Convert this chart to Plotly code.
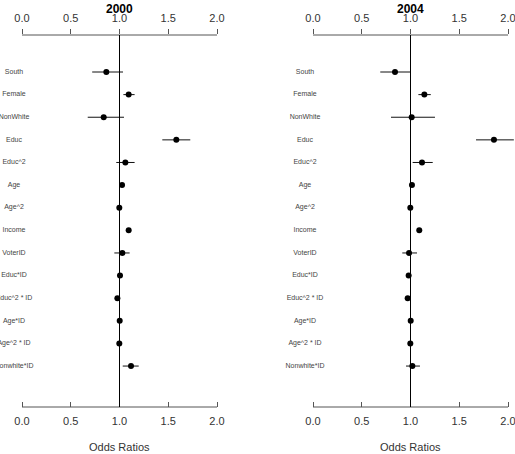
import plotly.graph_objects as go

categories = ["South", "Female", "NonWhite", "Educ", "Educ^2", "Age", "Age^2",
              "Income", "VoterID", "Educ*ID", "Educ^2 * ID", "Age*ID",
              "Age^2 * ID", "Nonwhite*ID"]

or_2000 = [0.865, 1.094, 0.838, 1.583, 1.060, 1.026, 0.998,
           1.094, 1.029, 1.005, 0.978, 1.002, 0.998, 1.118]
lo_2000 = [0.720, 1.040, 0.674, 1.439, 0.967, 1.010, 0.990,
           1.080, 0.947, 0.995, 0.968, 0.992, 0.990, 1.033]
hi_2000 = [1.036, 1.155, 1.046, 1.726, 1.155, 1.040, 1.006,
           1.108, 1.104, 1.015, 0.988, 1.012, 1.006, 1.197]

or_2004 = [0.841, 1.142, 1.012, 1.856, 1.118, 1.015, 0.998,
           1.090, 0.985, 0.981, 0.971, 1.002, 0.998, 1.019]
lo_2004 = [0.690, 1.081, 0.800, 1.672, 1.022, 1.005, 0.990,
           1.080, 0.916, 0.971, 0.961, 0.992, 0.990, 0.954]
hi_2004 = [0.998, 1.208, 1.251, 2.060, 1.228, 1.025, 1.006,
           1.100, 1.067, 0.991, 0.981, 1.012, 1.006, 1.097]

years = ["2000", "2004"]
tick_vals = [0.0, 0.5, 1.0, 1.5, 2.0]
tick_text = ["0.0", "0.5", "1.0", "1.5", "2.0"]

W, H = 515, 454
FONT = "Liberation Sans, Arial, sans-serif"
fig = go.Figure()

panels = [(or_2000, lo_2000, hi_2000), (or_2004, lo_2004, hi_2004)]
x_domains = [[0.0, 0.5], [0.5, 1.0]]
x_ranges = [[-0.22564, 2.41538], [-0.56923, 2.07179]]
y_dom = [(H - 407) / H, (H - 35) / H]
rows = list(range(len(categories)))
label_x = -0.082

xb_names = ["x", "x3"]
xt_names = ["x2", "x4"]
y_names = ["y", "y2"]

for k, (vals, lo, hi) in enumerate(panels):
    xa, ya = xb_names[k], y_names[k]
    plus = [h - v for h, v in zip(hi, vals)]
    minus = [v - l for v, l in zip(vals, lo)]
    fig.add_trace(go.Scatter(
        x=[label_x] * len(categories), y=rows, mode="text", text=categories,
        textfont=dict(family=FONT, size=7, color="#444"),
        textposition="middle center",
        xaxis=xa, yaxis=ya, showlegend=False, hoverinfo="skip"))
    fig.add_trace(go.Scatter(
        x=vals, y=rows, mode="markers",
        marker=dict(color="black", size=6),
        error_x=dict(type="data", symmetric=False, array=plus, arrayminus=minus,
                     color="#111", thickness=1, width=0),
        xaxis=xa, yaxis=ya, cliponaxis=False, showlegend=False,
        hoverinfo="skip"))
    fig.add_trace(go.Scatter(x=[None], y=[None], xaxis=xt_names[k], yaxis=ya,
                             showlegend=False, hoverinfo="skip"))

axis_common = dict(tickvals=tick_vals, ticktext=tick_text,
                   showgrid=False, zeroline=False, showline=False,
                   tickcolor="#555", ticklen=5, tickwidth=1, automargin=False,
                   ticklabeloverflow="allow",
                   tickfont=dict(family=FONT, size=11, color="#333"))

layout = dict(
    width=W, height=H, margin=dict(l=0, r=0, t=0, b=0, pad=0, autoexpand=False),
    paper_bgcolor="white", plot_bgcolor="white",
    showlegend=False,
)

annotations = []
shapes = []
for k in range(2):
    xb = "xaxis" if k == 0 else "xaxis3"
    xt = "xaxis2" if k == 0 else "xaxis4"
    yn = "yaxis" if k == 0 else "yaxis2"
    xref, yref = xb_names[k], y_names[k]
    layout[xb] = dict(axis_common, range=x_ranges[k], domain=x_domains[k],
                      anchor=yref, side="bottom", ticks="inside",
                      ticklabelstandoff=6)
    layout[xt] = dict(axis_common, range=x_ranges[k], domain=x_domains[k],
                      anchor=yref, side="top", ticks="outside",
                      overlaying=xref, ticklabelstandoff=3)
    layout[yn] = dict(domain=y_dom, range=[14.81, -1.636], visible=False,
                      anchor=xref, automargin=False)
    for yy in (0, 1):
        shapes.append(dict(type="line", xref=xref, yref=yref + " domain",
                           x0=tick_vals[0], x1=tick_vals[-1], y0=yy, y1=yy,
                           line=dict(color="#555", width=1)))
    shapes.append(dict(type="line", xref=xref, yref=yref + " domain",
                       x0=1, x1=1, y0=0, y1=1,
                       line=dict(color="black", width=1)))
    annotations.append(dict(text="<b>%s</b>" % years[k], xref=xref, x=1,
                            yref="paper", y=(H - 9) / H, showarrow=False,
                            xanchor="center", yanchor="middle",
                            font=dict(family=FONT, size=12, color="black")))
    annotations.append(dict(text="Odds Ratios", xref=xref, x=1,
                            yref="paper", y=(H - 447) / H, showarrow=False,
                            xanchor="center", yanchor="middle",
                            font=dict(family=FONT, size=11, color="#333")))

layout["shapes"] = shapes
layout["annotations"] = annotations
fig.update_layout(**layout)

fig.write_html("out.html")
